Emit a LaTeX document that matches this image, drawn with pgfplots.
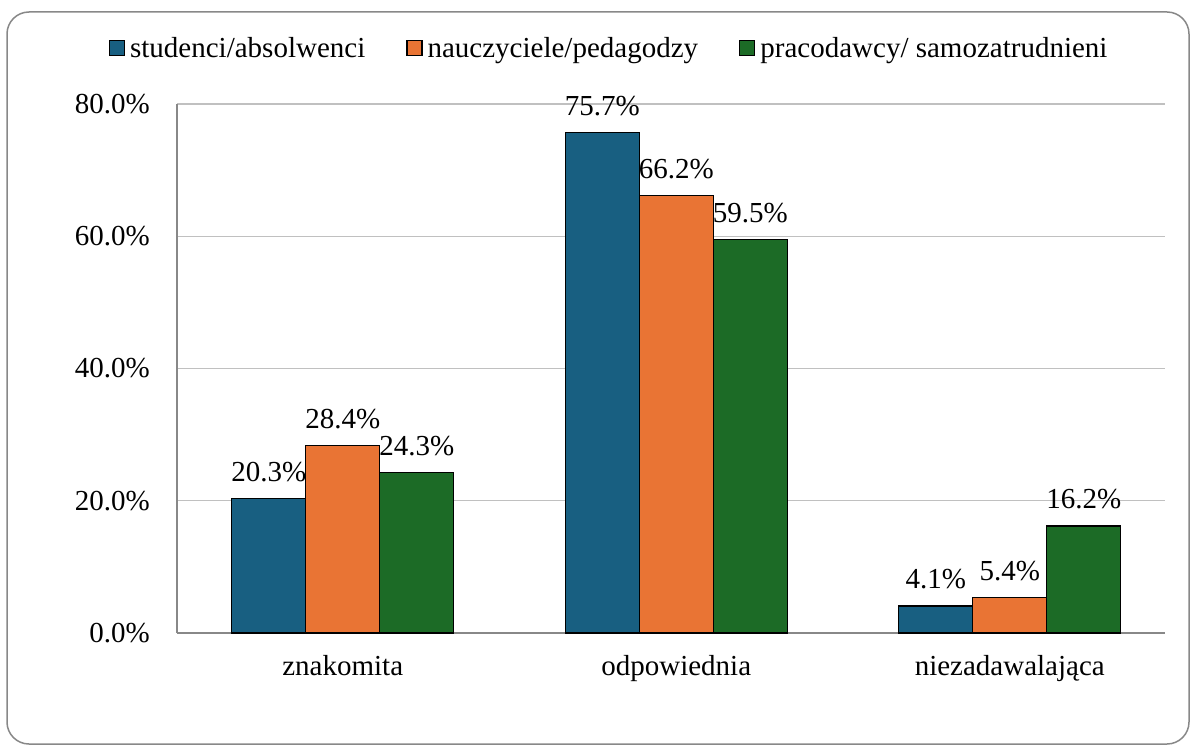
\documentclass[border=0pt]{standalone}
\usepackage{pgfplots}
\pgfplotsset{compat=1.18}
\usepackage{fontspec}
\setmainfont{Liberation Serif}

\definecolor{cblue}{HTML}{185F81}
\definecolor{corange}{HTML}{E97434}
\definecolor{cgreen}{HTML}{1C6B26}
\definecolor{cgrid}{HTML}{C0C0C0}
\definecolor{caxis}{HTML}{888888}

\begin{document}
\begin{tikzpicture}
\useasboundingbox (0pt,0pt) rectangle (1191pt,-746pt);
\draw[caxis, line width=1.5pt, rounded corners=22pt] (7pt,-12pt) rectangle (1189pt,-744pt);
\begin{axis}[
  at={(177pt,-633pt)}, anchor=south west,
  scale only axis,
  x=333.5pt, y=6.6125pt,
  xmin=-0.497, xmax=2.465,
  ymin=0, ymax=80,
  ybar, bar width=74pt,
  axis x line*=bottom, axis y line*=left,
  axis line style={caxis, line width=1.5pt},
  x axis line style={-}, y axis line style={-},
  major tick length=0pt,
  /pgf/number format/assume math mode=true,
  ytick={0,20,40,60,80},
  ymajorgrids, grid style={cgrid, line width=1.3pt},
  xtick={0,1,2},
  xticklabels={znakomita,odpowiednia,niezadawalająca},
  font=\fontsize{29}{31}\selectfont,
  ticklabel style={font=\fontsize{29}{31}\selectfont},
  yticklabel={\pgfmathprintnumber[fixed,fixed zerofill,precision=1]{\tick}\%},
  yticklabel style={inner sep=0pt, anchor=east, xshift=-27pt},
  xticklabel style={inner sep=0pt, anchor=base, yshift=-42pt},
  nodes near coords={\pgfmathprintnumber[fixed,fixed zerofill,precision=1]{\pgfplotspointmeta}\%},
  every node near coord/.append style={inner sep=0pt, anchor=base, yshift=17pt, black, font=\fontsize{29}{31}\selectfont},
  legend columns=3,
  legend style={draw=none, fill=none, at={(0.439,1.106)}, anchor=center,
    font=\fontsize{29}{31}\selectfont, inner sep=0pt,
    nodes={inner xsep=5pt, inner ysep=1pt},
    /tikz/every even column/.append style={column sep=36pt}},
  legend image code/.code={\draw[#1, draw=black, line width=1.3pt] (0pt,-7.5pt) rectangle (15pt,7.5pt);},
]
\addplot[fill=cblue, draw=black, line width=1.3pt, bar shift=-74pt] coordinates {(0,20.3) (1,75.7) (2,4.1)};
\addplot[fill=corange, draw=black, line width=1.3pt, bar shift=0pt] coordinates {(0,28.4) (1,66.2) (2,5.4)};
\addplot[fill=cgreen, draw=black, line width=1.3pt, bar shift=74pt] coordinates {(0,24.3) (1,59.5) (2,16.2)};
\legend{studenci/absolwenci, nauczyciele/pedagodzy, pracodawcy/ samozatrudnieni}
\end{axis}
\end{tikzpicture}
\end{document}
